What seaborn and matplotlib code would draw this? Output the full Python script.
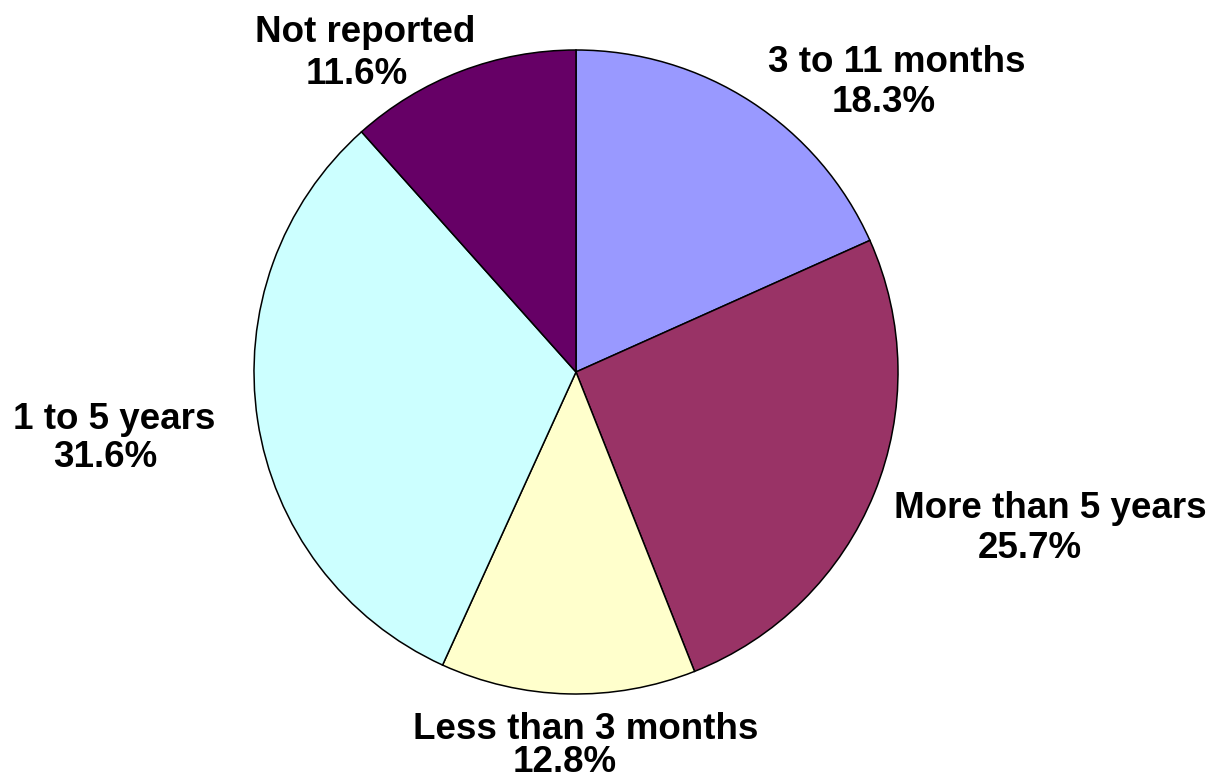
import matplotlib
matplotlib.use("Agg")
import matplotlib.pyplot as plt
import seaborn as sns

# Data: time categories, shares in percent (clockwise from 12 o'clock)
categories = ['3 to 11 months', 'More than 5 years', 'Less than 3 months', '1 to 5 years', 'Not reported']
shares = [18.3, 25.7, 12.8, 31.6, 11.6]
colors = ['#9999FF', '#993366', '#FFFFCC', '#CCFFFF', '#660066']

# label placement, pixel positions (x centre, baseline y) of name line and percent line
name_pos = [(897, 72), (1050, 518), (586, 739), (114, 429), (365, 42)]
pct_pos = [(884, 112), (1030, 558), (565, 772), (105, 467), (357, 84)]

sns.set_theme(style="white")
plt.rcParams['font.family'] = ['Liberation Sans', 'DejaVu Sans']

W, H = 1213, 783
fig = plt.figure(figsize=(W / 100, H / 100), dpi=100)
fig.patch.set_facecolor('white')

# pie centre (576, 372) px, radius 322 px
cx, cy, r = 576, 372, 322
ax = fig.add_axes([(cx - r) / W, (H - cy - r) / H, 2 * r / W, 2 * r / H])
ax.pie(shares, colors=colors, startangle=90, counterclock=False,
       wedgeprops=dict(edgecolor='black', linewidth=1.1))
ax.set_xlim(-1, 1)
ax.set_ylim(-1, 1)
ax.set_aspect('auto')
ax.axis('off')

for cat, val, (nx, ny), (px, py) in zip(categories, shares, name_pos, pct_pos):
    fig.text(nx / W, 1 - ny / H, cat, ha='center', va='baseline',
             fontsize=26.5, fontweight='bold', color='black')
    fig.text(px / W, 1 - py / H, f'{val:.1f}%', ha='center', va='baseline',
             fontsize=26.5, fontweight='bold', color='black')

fig.savefig('out.png', dpi=100, facecolor='white')
